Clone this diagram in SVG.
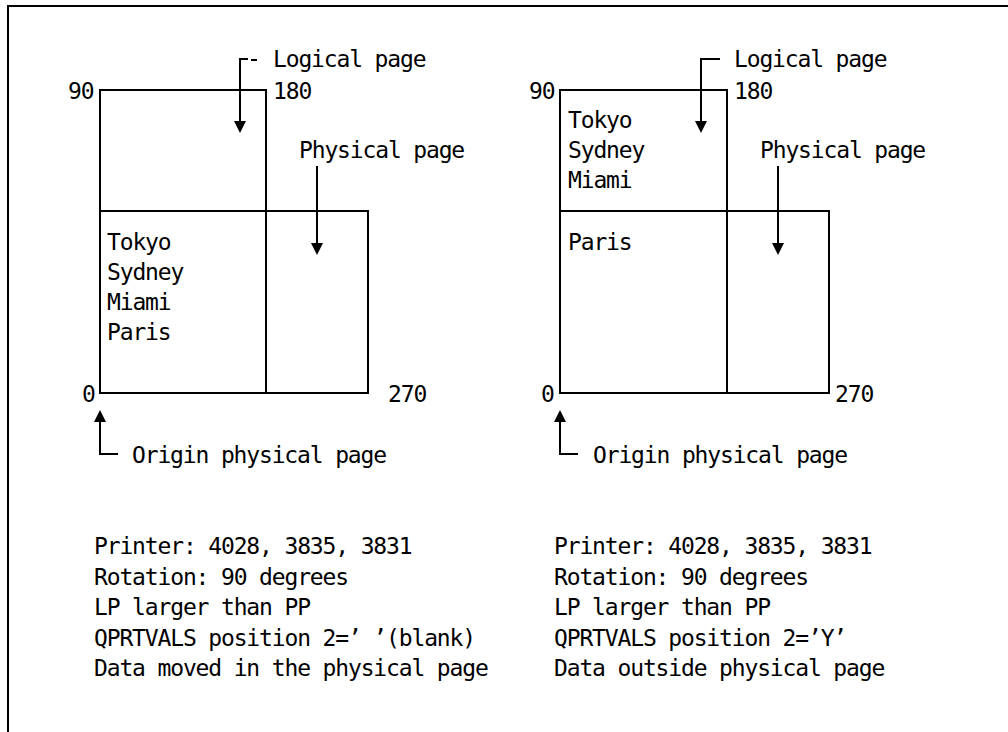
<svg xmlns="http://www.w3.org/2000/svg" width="1008" height="732" viewBox="0 0 1008 732">
  <style>
    text { font-family: "DejaVu Sans Mono", "Liberation Mono", monospace; font-size: 23px; letter-spacing: -1.15px; fill: #000; }
    .box { fill: none; stroke: #000; stroke-width: 2; }
    .conn { fill: none; stroke: #000; stroke-width: 2; }
  </style>
  <defs>
    <marker id="arr" markerUnits="userSpaceOnUse" markerWidth="12" markerHeight="12" refX="6" refY="6" orient="auto">
      <path d="M0,0 L12,6 L0,12 z" fill="#000"/>
    </marker>
  </defs>
  <rect width="1008" height="732" fill="#fff"/>
  <path d="M8,732 V6 H1008" fill="none" stroke="#000" stroke-width="2"/>

  <g id="left-diagram">
    <g id="left-logical-page">
      <rect class="box" x="100" y="90" width="166" height="303"/>
      <text x="68" y="99">90</text>
      <text x="273" y="99">180</text>
    </g>
    <g id="left-physical-page">
      <rect class="box" x="100" y="211" width="268" height="182"/>
      <text x="82" y="402">0</text>
      <text x="388" y="402">270</text>
    </g>
    <g id="left-data">
      <text x="107" y="250">Tokyo</text>
      <text x="107" y="280">Sydney</text>
      <text x="107" y="310">Miami</text>
      <text x="107" y="340">Paris</text>
    </g>
    <g id="left-labels">
      <text x="273" y="67">Logical page</text>
      <text x="299" y="158">Physical page</text>
      <text x="132" y="463">Origin physical page</text>
    </g>
    <g id="left-notes">
      <text x="94" y="554">Printer: 4028, 3835, 3831</text>
      <text x="94" y="585">Rotation: 90 degrees</text>
      <text x="94" y="615">LP larger than PP</text>
      <text x="94" y="646">QPRTVALS position 2=’ ’(blank)</text>
      <text x="94" y="676">Data moved in the physical page</text>
    </g>
  </g>

  <g id="right-diagram">
    <g id="right-logical-page">
      <rect class="box" x="560" y="90" width="167" height="303"/>
      <text x="529" y="99">90</text>
      <text x="734" y="99">180</text>
    </g>
    <g id="right-physical-page">
      <rect class="box" x="560" y="211" width="269" height="182"/>
      <text x="541" y="402">0</text>
      <text x="835" y="402">270</text>
    </g>
    <g id="right-data">
      <text x="568" y="128">Tokyo</text>
      <text x="568" y="158">Sydney</text>
      <text x="568" y="188">Miami</text>
      <text x="568" y="250">Paris</text>
    </g>
    <g id="right-labels">
      <text x="734" y="67">Logical page</text>
      <text x="760" y="158">Physical page</text>
      <text x="593" y="463">Origin physical page</text>
    </g>
    <g id="right-notes">
      <text x="554" y="554">Printer: 4028, 3835, 3831</text>
      <text x="554" y="585">Rotation: 90 degrees</text>
      <text x="554" y="615">LP larger than PP</text>
      <text x="554" y="646">QPRTVALS position 2=’Y’</text>
      <text x="554" y="676">Data outside physical page</text>
    </g>
  </g>

  <g id="connectors">
    <path class="conn" d="M248,59 H240 V127" marker-end="url(#arr)"/>
    <path class="conn" d="M251,60 H257"/>
    <path class="conn" d="M317,166 V249" marker-end="url(#arr)"/>
    <path class="conn" d="M118,454 H100 V416" marker-end="url(#arr)"/>
    <path class="conn" d="M720,59 H701 V127" marker-end="url(#arr)"/>
    <path class="conn" d="M778,166 V249" marker-end="url(#arr)"/>
    <path class="conn" d="M578,454 H560 V416" marker-end="url(#arr)"/>
  </g>
</svg>
